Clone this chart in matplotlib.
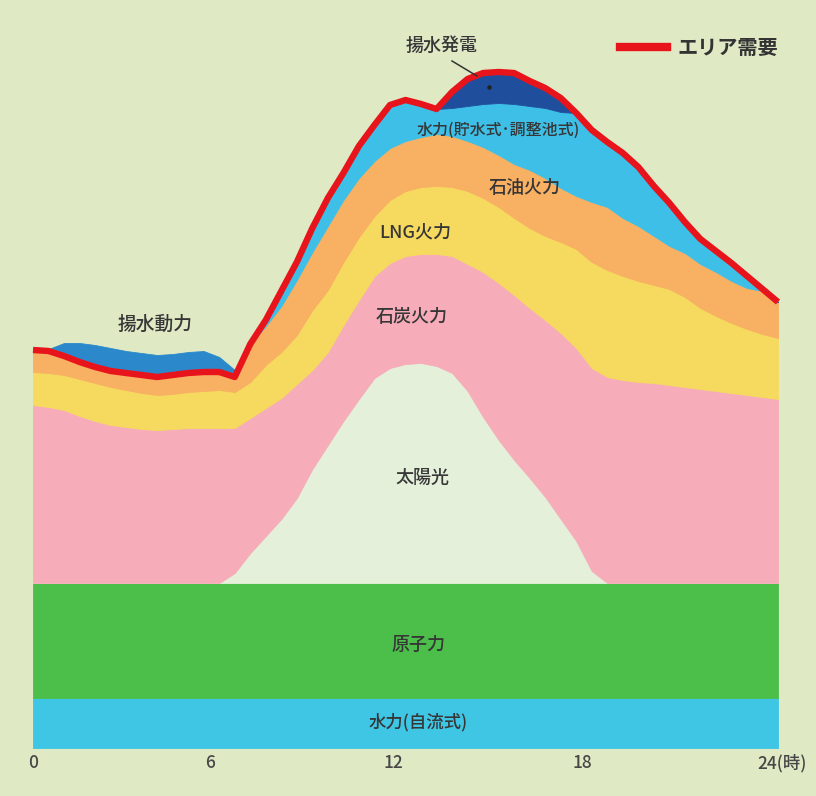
import numpy as np
import matplotlib
matplotlib.use("Agg")
import matplotlib.pyplot as plt
from matplotlib.lines import Line2D

plt.rcParams['font.family'] = ['Noto Sans CJK JP', 'DejaVu Sans']

# Hour of day (half-hour steps)
hours = np.arange(0, 24.5, 0.5)

# Supply by source, stacked from the bottom (relative units)
hydro_ror = [50] * 49
nuclear = [115] * 49
solar = [0, 0, 0, 0, 0, 0, 0, 0, 0, 0, 0, 0, 0, 10,
         30, 47, 64, 85, 114, 138, 162, 184, 205, 215, 219, 220, 217, 210,
         192, 166, 143, 123, 105, 86, 64, 42, 12, 0, 0, 0, 0, 0,
         0, 0, 0, 0, 0, 0, 0]
coal = [178, 176, 173, 167, 162, 158, 156, 154, 153, 154, 155, 155, 155, 145,
        135, 128, 121, 114, 99, 93, 96, 99, 102, 105, 108, 109, 112, 117,
        127, 145, 157, 165, 170, 177, 186, 193, 203, 206, 203, 201, 200, 198,
        196, 194, 192, 190, 188, 186, 184]
lng = [33, 34, 35, 37, 38, 38, 37, 36, 35, 35, 36, 37, 38, 36,
       36, 43, 46, 49, 60, 62, 63, 63, 60, 63, 65, 67, 68, 69,
       73, 74, 76, 77, 80, 84, 91, 99, 106, 107, 104, 101, 98, 96,
       90, 81, 75, 70, 66, 63, 61]
oil = [22, 22, 19, 17, 16, 16, 17, 18, 18, 19, 19, 19, 18, 15,
       38, 39, 46, 55, 58, 64, 62, 59, 55, 52, 50, 50, 52, 51,
       50, 51, 52, 54, 58, 58, 54, 53, 60, 63, 58, 55, 49, 43,
       44, 44, 44, 42, 41, 43, 36]
hydro_storage = [0, 0, 0, 0, 0, 0, 0, 0, 0, 0, 0, 0, 0, 0,
                 0, 8, 15, 18, 24, 28, 27, 32, 36, 43, 41, 33, 25, 28,
                 35, 43, 52, 60, 64, 70, 76, 83, 72, 65, 65, 59, 50, 43,
                 31, 25, 21, 18, 12, 2, 0]
pumped_gen = [0, 0, 0, 0, 0, 0, 0, 0, 0, 0, 0, 0, 0, 0,
              0, 0, 0, 0, 0, 0, 0, 0, 0, 0, 0, 0, 0, 16,
              27, 31, 31, 31, 25, 20, 14, 0, 0, 0, 0, 0, 0, 0,
              0, 0, 0, 0, 0, 0, 0]

# Pumping load carried on top of the area demand
pump_load = [0, 2, 13, 19, 22, 23, 22, 22, 22, 21, 21, 21, 15, 7,
             0, 0, 0, 0, 0, 0, 0, 0, 0, 0, 0, 0, 0, 0,
             0, 0, 0, 0, 0, 0, 0, 0, 0, 0, 0, 0, 0, 0,
             0, 0, 0, 0, 0, 0, 0]

# Area demand
demand = [398, 397, 392, 386, 381, 377, 375, 373, 371, 373, 375, 376, 376, 371,
          404, 428, 457, 486, 520, 550, 575, 602, 623, 643, 648, 644, 639, 656,
          669, 675, 676, 675, 667, 660, 650, 635, 618, 606, 595, 581, 562, 545,
          526, 509, 497, 485, 472, 459, 446]

tick_hours = [0, 6, 12, 18, 24]
tick_labels = ["0", "6", "12", "18", "24(時)"]

layer_colors = ["#3ec6e4", "#4bbf49", "#e5f0da", "#f6adb9", "#f6d95f",
                "#f8b062", "#3dbfe8", "#1f4e9d"]
bg = "#dfeac5"
W, H = 816, 796

fig = plt.figure(figsize=(W / 100, H / 100), dpi=100, facecolor=bg)
ax = fig.add_axes([0, 0, 1, 1])
ax.set_facecolor(bg)

# hour 0 sits at x=33px, hour 24 at x=778px; value 0 at y=748px
px_per_h = (778 - 33) / 24.0
ax.set_xlim(-33 / px_per_h, (W - 33) / px_per_h)
ax.set_ylim(-(H - 748), 748)
ax.axis("off")

polys = ax.stackplot(hours, hydro_ror, nuclear, solar, coal, lng, oil,
                     hydro_storage, pumped_gen, colors=layer_colors)
for p, c in zip(polys, layer_colors):
    p.set_edgecolor(c)
    p.set_linewidth(0.6)

demand_arr = np.array(demand, dtype=float)
pump_arr = np.array(pump_load, dtype=float)
ax.fill_between(hours, demand_arr, demand_arr + pump_arr,
                where=np.r_[pump_arr[1:] > 0, False] | (pump_arr > 0),
                color="#2b89cb", linewidth=0.6, edgecolor="#2b89cb")

ax.plot(hours, demand_arr, color="#e8141c", lw=4.6, solid_joinstyle="round",
        solid_capstyle="butt", zorder=5)

txt = "#363636"


def ftext(x, y, s, size=13, **kw):
    fig.text(x / W, 1 - y / H, s, ha="center", va="center", fontsize=size,
             color=txt, fontweight="medium", **kw)


ftext(155, 324, "揚水動力", 13.5)
ftext(442, 46, "揚水発電", 13)
ftext(498, 130, "水力(貯水式･調整池式)", 11.5)
ftext(525, 188, "石油火力", 13)
ftext(415, 232, "LNG火力", 13)
ftext(412, 317, "石炭火力", 13)
ftext(422, 478, "太陽光", 13)
ftext(418, 645, "原子力", 13)
ftext(418, 722, "水力(自流式)", 12.5)

# leader to the pumped-storage generation area
fig.add_artist(Line2D([452 / W, 477 / W], [1 - 61 / H, 1 - 76 / H],
                      color="#333333", lw=1.1))
fig.add_artist(Line2D([489 / W], [1 - 87 / H], marker="o", ms=2.2,
                      color="#222222", lw=0))

# legend
fig.add_artist(Line2D([620 / W, 667 / W], [1 - 47 / H, 1 - 47 / H],
                      color="#e8141c", lw=6))
fig.text(677 / W, 1 - 47 / H, "エリア需要", ha="left", va="center",
         fontsize=14.5, color="#333333", fontweight="bold")

# hour labels
label_px = [33, 210, 393, 582, 757]
for h, lab, lx in zip(tick_hours, tick_labels, label_px):
    ha = "left" if lab.endswith("(時)") else "center"
    fig.text(lx / W, 1 - 763 / H, lab, ha=ha, va="center", fontsize=12.5,
             color="#474747", fontweight="medium")

fig.savefig("out.png", dpi=100, facecolor=bg)
